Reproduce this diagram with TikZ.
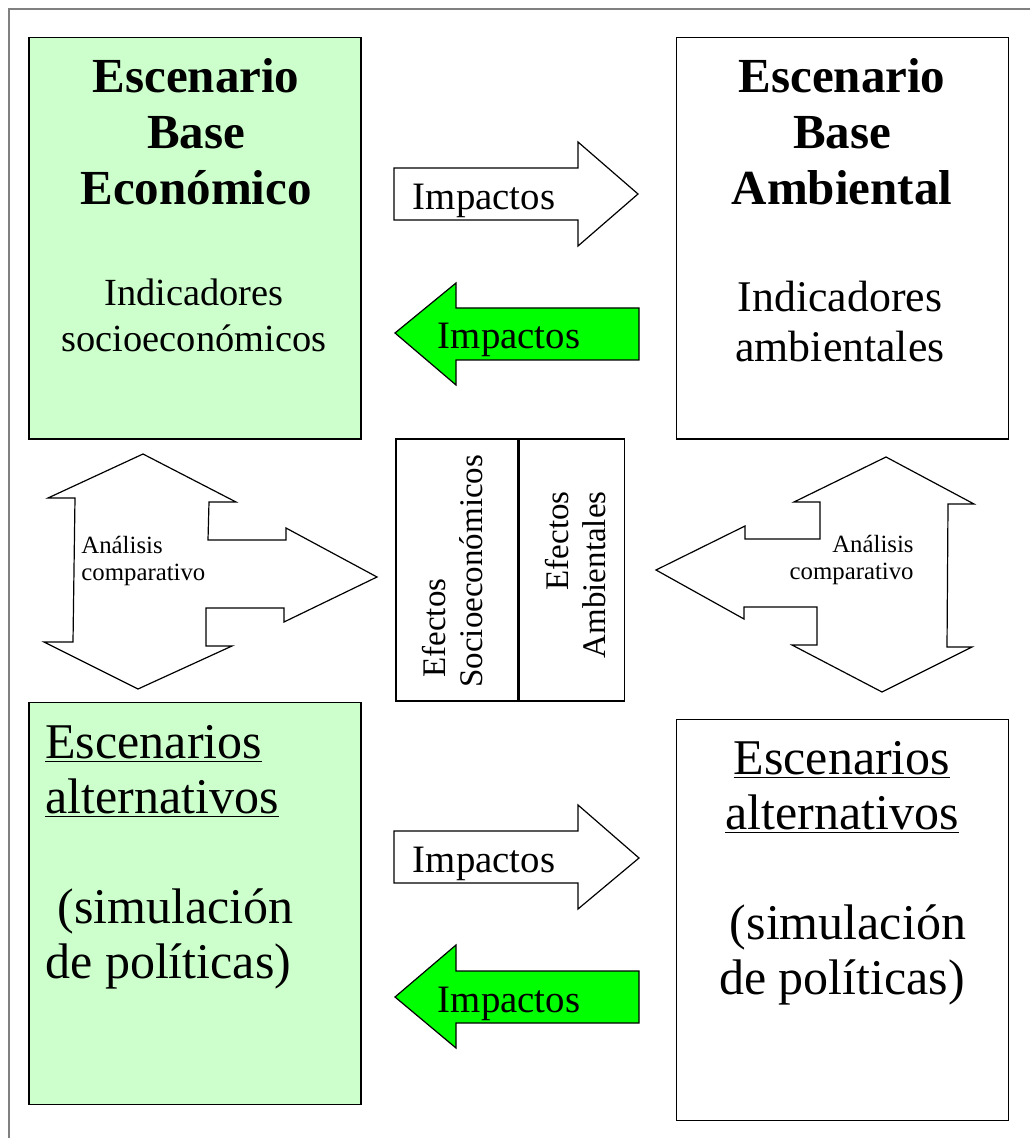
\documentclass[tikz,border=0pt]{standalone}
\usepackage{fontspec}
\setmainfont{Liberation Serif}
\usetikzlibrary{positioning}
\definecolor{mint}{RGB}{204,255,204}
\definecolor{vivid}{RGB}{0,255,0}

\begin{document}
\begin{tikzpicture}[x=0.5pt, y=-0.5pt,
    box/.style={draw, line width=0.75pt, inner sep=0pt, minimum width=166pt, minimum height=200.5pt},
    half/.style={draw, line width=0.75pt, inner sep=0pt, minimum height=131pt},
    blockarrow/.style={draw, line width=0.6pt, line join=miter},
    heading/.style={font=\bfseries\fontsize{24.5}{28}\selectfont, align=center, inner sep=0pt, anchor=base},
    scenario/.style={font=\fontsize{25}{27.5}\selectfont, inner sep=0pt},
    impact/.style={font=\fontsize{19.4}{23}\selectfont, inner sep=0pt, anchor=base},
    cmptext/.style={font=\fontsize{12.4}{13.5}\selectfont, inner sep=0pt},
    effect/.style={font=\fontsize{16.5}{18.5}\selectfont, inner sep=0pt, rotate=90}
  ]
  \useasboundingbox (0,0) rectangle (1030,1138);
  \draw[gray, line width=0.8pt] (9,1138) -- (9,9) -- (1030,9);

  % scenario boxes
  \node[box, fill=mint, anchor=north west] (econ) at (28,37) {};
  \node[box, right=157pt of econ] (amb) {};
  \node[box, fill=mint, minimum height=201pt, below=131pt of econ] (econalt) {};
  \node[box, below=139.5pt of amb] (ambalt) {};
  \node[half, minimum width=61pt, anchor=north west] (effsoc) at (395,438) {};
  \node[half, minimum width=52.5pt, right=0pt of effsoc] (effamb) {};

  % impact arrows
  \draw[blockarrow, fill=white] (394,168) -- (578,168) -- (578,142) -- (638,194) -- (578,246) -- (578,220) -- (394,220) -- cycle;
  \draw[blockarrow, fill=vivid] (395,333) -- (456,283) -- (456,308) -- (639,308) -- (639,360) -- (456,360) -- (456,385) -- cycle;
  \draw[blockarrow, fill=white] (394,831) -- (578,831) -- (578,805) -- (639,858) -- (578,909) -- (578,883) -- (394,883) -- cycle;
  \draw[blockarrow, fill=vivid] (395,997) -- (456,945) -- (456,971) -- (639,971) -- (639,1023) -- (456,1023) -- (456,1048) -- cycle;

  % comparison arrows
  \draw[blockarrow] (143,454) -- (236,502) -- (209,502) -- (208,540) -- (286,540) -- (286,528) -- (377,577) -- (284,622) -- (284,608) -- (206,608) -- (206,646) -- (232,646) -- (138,689) -- (44,642) -- (73,642) -- (75,498) -- (48,498) -- cycle;
  \draw[blockarrow] (886,457) -- (974,504) -- (948,504) -- (947,647) -- (972,647) -- (882,692) -- (792,645) -- (817,645) -- (817,607) -- (744,607) -- (744,619) -- (656,570) -- (745,526) -- (745,539) -- (820,539) -- (820,502) -- (794,502) -- cycle;

  \node[heading] (econtitle) at (196,205) {Escenario\\Base\\Económico};
  \node[heading] (ambtitle) at (842,205) {Escenario\\Base\\Ambiental};
  \node[font=\fontsize{19.2}{23}\selectfont, align=center, inner sep=0pt, anchor=base] (econind) at (194,352) {Indicadores\\socioeconómicos};
  \node[font=\fontsize{21.9}{25}\selectfont, align=center, inner sep=0pt, anchor=base] (ambind) at (840,362) {Indicadores\\ambientales};

  \node[scenario, align=left, anchor=base west] (econsim) at (45,978) {\underline{Escenarios}\\\underline{alternativos}\\[27.5pt]\hspace*{6pt}(simulación\\de políticas)};
  \node[scenario, align=center, anchor=base] (ambsim) at (842,994) {\underline{Escenarios}\\\underline{alternativos}\\[27.5pt]\hspace*{6pt}(simulación\\de políticas)};

  \node[impact] (imp1) at (484,210) {Impactos};
  \node[impact] (imp2) at (509,349) {Impactos};
  \node[impact] (imp3) at (484,872) {Impactos};
  \node[impact] (imp4) at (509,1012) {Impactos};

  \node[cmptext, align=left, anchor=base west] (cmpl) at (81,580) {Análisis\\comparativo};
  \node[cmptext, align=right, anchor=base east] (cmpr) at (914,579) {Análisis\\comparativo};

  \node[effect, align=left, anchor=base west] (soctext) at (482,688) {\hspace*{5pt}Efectos\\Socioeconómicos};
  \node[effect, align=right, anchor=base east] (ambtext) at (605,491) {Efectos\\Ambientales};
\end{tikzpicture}
\end{document}
